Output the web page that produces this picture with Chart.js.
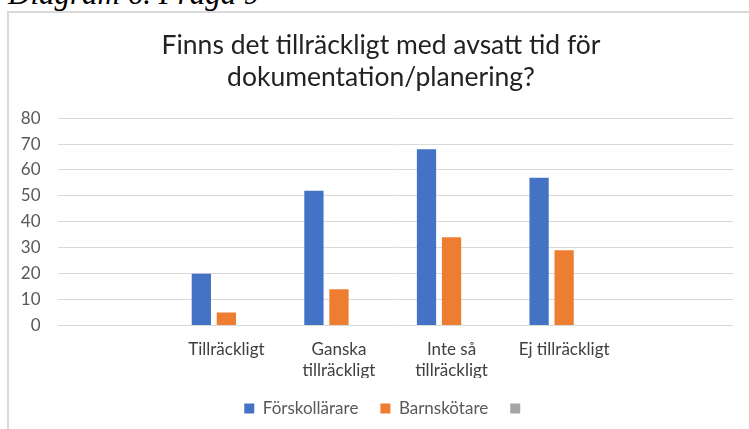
<!DOCTYPE html>
<html><head><meta charset="utf-8">
<script src="https://cdn.jsdelivr.net/npm/chart.js@4"></script>
<style>
html,body{margin:0;padding:0;background:#fff;overflow:hidden;}
#wrap{position:relative;width:749px;height:429px;overflow:hidden;}
#cap{position:absolute;left:8px;top:-24px;font-family:"Liberation Serif","DejaVu Serif",serif;font-style:italic;font-size:31px;line-height:36px;color:#000;white-space:nowrap;}
#box{position:absolute;left:7px;top:11px;width:800px;height:500px;border:2px solid #d9d9d9;box-sizing:border-box;}
canvas{position:absolute;left:0;top:0;}
</style></head>
<body>
<div id="wrap">
<div id="cap">Diagram 6. Fråga 9</div>
<div id="box"></div>
<canvas id="c" width="749" height="429"></canvas>
</div>
<script>
const categories = ["", "Tillräckligt", ["Ganska", "tillräckligt"], ["Inte så", "tillräckligt"], "Ej tillräckligt", ""];
const forskollarare = [null, 20, 52, 68, 57, null];
const barnskotare = [null, 5, 14, 34, 29, null];
const tomSerie = [null, null, null, null, null, null];
const yTicks = [0, 10, 20, 30, 40, 50, 60, 70, 80];
const titleLines = ["Finns det tillräckligt med avsatt tid för", "dokumentation/planering?"];

// The Excel chart frame extends past the right edge of the picture, so the
// title and legend are centred on that wider frame rather than on the canvas.
const frameCentre = {
  id: 'frameCentre',
  afterLayout(chart) {
    if (chart.titleBlock) chart.titleBlock.left += 29;
    if (chart.legend) chart.legend.left += 40;
  }
};

Chart.defaults.font.family = "Lato";
new Chart(document.getElementById('c'), {
  type: 'bar',
  data: {
    labels: categories,
    datasets: [
      {label: 'Förskollärare', data: forskollarare, backgroundColor: '#4472C4'},
      {label: 'Barnskötare', data: barnskotare, backgroundColor: '#ED7D31'},
      {label: '', data: tomSerie, backgroundColor: '#A5A5A5'}
    ]
  },
  plugins: [frameCentre],
  options: {
    responsive: false,
    animation: false,
    devicePixelRatio: 1,
    categoryPercentage: 0.667,
    barPercentage: 0.77,
    layout: {padding: {left: 0, right: 16, top: 29, bottom: 2}},
    plugins: {
      title: {display: true, text: titleLines, color: '#222', font: {size: 26.5, weight: 'normal', lineHeight: 1.21}, padding: {top: 0, bottom: 25}},
      legend: {position: 'bottom', labels: {boxWidth: 10, boxHeight: 10, padding: 22, color: '#595959', font: {size: 17}}},
      tooltip: {enabled: false}
    },
    scales: {
      x: {
        afterFit: (s) => { s.height = 52.5; },
        grid: {display: false},
        border: {display: false},
        ticks: {color: '#404040', font: {size: 17, lineHeight: 1.2}, padding: 6, maxRotation: 0, autoSkip: false}
      },
      y: {
        min: 0, max: 80,
        afterFit: (s) => { s.width = 57.5; },
        afterBuildTicks: (s) => { s.ticks = yTicks.map(v => ({value: v})); },
        grid: {color: '#d9d9d9', lineWidth: 1, drawTicks: false},
        border: {display: false},
        ticks: {color: '#595959', font: {size: 17}, padding: 17}
      }
    }
  }
});
</script>
</body></html>
